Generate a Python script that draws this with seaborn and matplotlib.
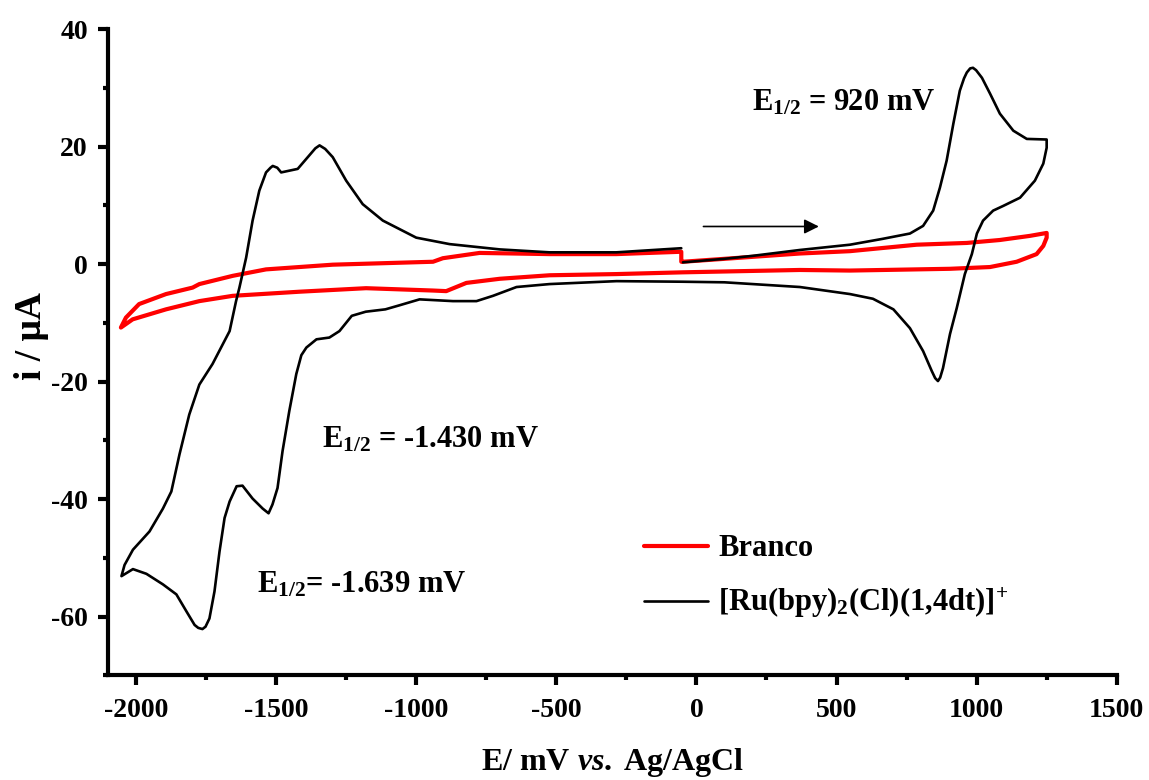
import matplotlib
matplotlib.use("Agg")
import matplotlib.pyplot as plt
import seaborn as sns
import pandas as pd

# ---------------- data ----------------
# [Ru(bpy)2(Cl)(1,4dt)]+ : scan starts at -50 mV, goes positive, reverses at 1250,
# goes to -2050 and returns to -50 mV
black_x = [-48, 100, 200, 369, 548, 665, 762, 809, 845, 869, 893, 917, 940, 955, 965, 977, 987,
           998, 1019, 1048, 1083, 1131, 1179, 1250,
           1250, 1238, 1208, 1155, 1095, 1059, 1023, 1001, 983, 958, 929, 905, 880, 870, 862,
           852, 840, 809, 762, 703, 630, 548, 369, 100, -49, -285, -524, -642, -726, -785,
           -869, -988, -1059, -1110, -1180, -1230, -1274, -1310, -1356, -1392, -1410,
           -1428, -1453, -1477, -1495, -1513, -1527, -1548, -1584, -1620, -1641, -1666,
           -1684, -1702, -1720, -1738, -1752, -1763, -1778, -1791, -1820, -1856, -1904, -1963,
           -2011, -2052,
           -2041, -2011, -1952, -1904, -1874, -1845, -1810, -1774, -1727, -1666, -1643,
           -1631, -1607, -1584, -1560, -1536, -1520, -1512, -1496, -1482, -1423, -1387, -1360,
           -1345, -1325, -1298, -1250, -1191, -1119, -1000, -881, -702, -524, -286, -54]
black_y = [0.3, 0.9, 1.4, 2.4, 3.3, 4.3, 5.2, 6.5, 9.1, 13.0, 17.6, 23.9, 29.5, 31.6, 32.6, 33.3, 33.4,
           33.0, 31.7, 29.0, 25.6, 22.7, 21.3, 21.2,
           19.8, 17.1, 14.2, 11.3, 9.9, 9.1, 7.4, 5.2, 1.7, -1.7, -7.5, -11.9, -17.7, -19.3, -19.9,
           -19.4, -18.2, -14.8, -10.9, -7.7, -5.9, -5.1, -3.9, -3.1, -3.0, -2.9, -3.4, -3.9, -5.4, -6.3,
           -6.3, -6.0, -7.0, -7.7, -8.1, -8.8, -11.4, -12.5, -12.8, -14.2, -15.5,
           -18.7, -25.0, -31.8, -38.1, -40.9, -42.4, -41.6, -39.9, -37.7, -37.8, -40.4,
           -43.2, -48.9, -55.7, -60.3, -61.7, -62.1, -61.9, -61.4, -59.1, -56.2, -54.5, -52.7,
           -51.9, -53.1,
           -51.2, -48.6, -45.5, -41.6, -38.7, -32.4, -25.6, -20.5, -17.0, -11.4, -6.3,
           -4.0, 1.1, 7.4, 12.5, 15.6, 16.4, 16.7, 16.4, 15.6, 16.2, 18.2, 19.7,
           20.2, 19.6, 18.2, 14.2, 10.2, 7.4, 4.5, 3.4, 2.5, 2.0, 2.0, 2.7]

# Branco (blank)
red_x = [-48, 369, 548, 786, 965, 1083, 1190, 1250,
         1250, 1238, 1214, 1143, 1048, 905, 667, 548, 369, -48, -286, -524, -702, -821,
         -893, -940, -1179, -1417, -1655, -1774, -1893, -2012, -2054,
         -2036, -1989, -1893, -1798, -1774, -1655, -1536, -1298, -940, -905, -774, -524,
         -286, -54, -54]
red_y = [0.4, 1.8, 2.2, 3.3, 3.6, 4.1, 4.8, 5.3,
         4.5, 3.1, 1.7, 0.4, -0.5, -0.8, -1.0, -1.1, -1.0, -1.4, -1.7, -1.9, -2.5, -3.2,
         -4.6, -4.5, -4.1, -4.7, -5.4, -6.3, -7.7, -9.4, -10.8,
         -9.1, -6.8, -5.1, -4.0, -3.4, -2.0, -0.9, -0.1, 0.4, 1.0, 1.9, 1.7,
         1.7, 2.1, 0.4]

series_labels = ["Branco", r"[Ru(bpy)$_{2}$(Cl)(1,4dt)]$^{+}$"]
x_ticks = [-2000, -1500, -1000, -500, 0, 500, 1000, 1500]
y_ticks = [-60, -40, -20, 0, 20, 40]

# ---------------- style ----------------
sns.set_style("ticks")
plt.rcParams["font.family"] = ["Liberation Serif", "DejaVu Serif"]
plt.rcParams["font.weight"] = "bold"
plt.rcParams["text.color"] = "black"
plt.rcParams["axes.labelcolor"] = "black"
plt.rcParams["axes.edgecolor"] = "black"
plt.rcParams["xtick.color"] = "black"
plt.rcParams["ytick.color"] = "black"
plt.rcParams["axes.unicode_minus"] = False
plt.rcParams["mathtext.fontset"] = "custom"
plt.rcParams["mathtext.rm"] = "Liberation Serif:bold"
plt.rcParams["mathtext.bf"] = "Liberation Serif:bold"
plt.rcParams["mathtext.it"] = "Liberation Serif:italic:bold"
plt.rcParams["mathtext.default"] = "bf"

fig = plt.figure(figsize=(11.49, 7.8), dpi=100)
ax = fig.add_axes([0.0940, 0.1340, 0.8779, 0.8288])

df_red = pd.DataFrame({"E": red_x, "i": red_y})
df_black = pd.DataFrame({"E": black_x, "i": black_y})

sns.lineplot(data=df_red, x="E", y="i", sort=False, estimator=None, ax=ax,
             color="#ff0000", lw=3.0, label=series_labels[0])
sns.lineplot(data=df_black, x="E", y="i", sort=False, estimator=None, ax=ax,
             color="black", lw=1.9, label=series_labels[1])

ax.set_xlim(-2100, 1500)
ax.set_ylim(-70, 40)
ax.set_xticks(x_ticks)
ax.set_yticks(y_ticks)
ax.set_xticks([-1750, -1250, -750, -250, 250, 750, 1250], minor=True)
ax.set_yticks([-70, -50, -30, -10, 10, 30], minor=True)

for s in ["top", "right"]:
    ax.spines[s].set_visible(False)
for s in ["left", "bottom"]:
    ax.spines[s].set_linewidth(3)
    ax.spines[s].set_color("black")

ax.tick_params(axis="both", which="major", direction="out", width=3, length=7.5,
               labelsize=20, color="black", labelcolor="black")
ax.tick_params(axis="both", which="minor", direction="out", width=3, length=3.5,
               color="black")
ax.tick_params(axis="x", which="major", pad=9)
ax.tick_params(axis="y", which="major", pad=7)
for lab in ax.get_xticklabels() + ax.get_yticklabels():
    lab.set_fontweight("bold")

ax.set_xlabel(r"E/ mV $\mathit{vs.}\;$Ag/AgCl", fontsize=23, fontweight="bold")
ax.xaxis.label.set_va("center")
ax.xaxis.set_label_coords(0.5, -0.1353)
ax.set_ylabel("i / μA", fontsize=27, fontweight="bold")
ax.yaxis.label.set_va("center")
ax.yaxis.set_label_coords(-0.0763, 0.525)

# annotations
ax.text(197, 26.1, r"E$_{1/2}$ = 920 mV", fontsize=22, fontweight="bold",
        ha="left", va="baseline")
ax.text(-1338, -31.2, r"E$_{1/2}$ = -1.430 mV", fontsize=22, fontweight="bold",
        ha="left", va="baseline")
ax.text(-1570, -55.9, r"E$_{1/2}$= -1.639 mV", fontsize=22, fontweight="bold",
        ha="left", va="baseline")
ax.annotate("", xy=(437, 6.4), xytext=(25, 6.4),
            arrowprops=dict(arrowstyle="-|>", color="black", lw=1.2,
                            mutation_scale=22, shrinkA=0, shrinkB=0))

leg = ax.legend(loc="center left", bbox_to_anchor=(0.531, 0.152), frameon=False,
                fontsize=22, handlelength=2.1, handletextpad=0.35,
                labelspacing=0.75, borderpad=0, borderaxespad=0)
for t in leg.get_texts():
    t.set_fontweight("bold")
    t.set_color("black")

fig.savefig("out.png", dpi=100)
